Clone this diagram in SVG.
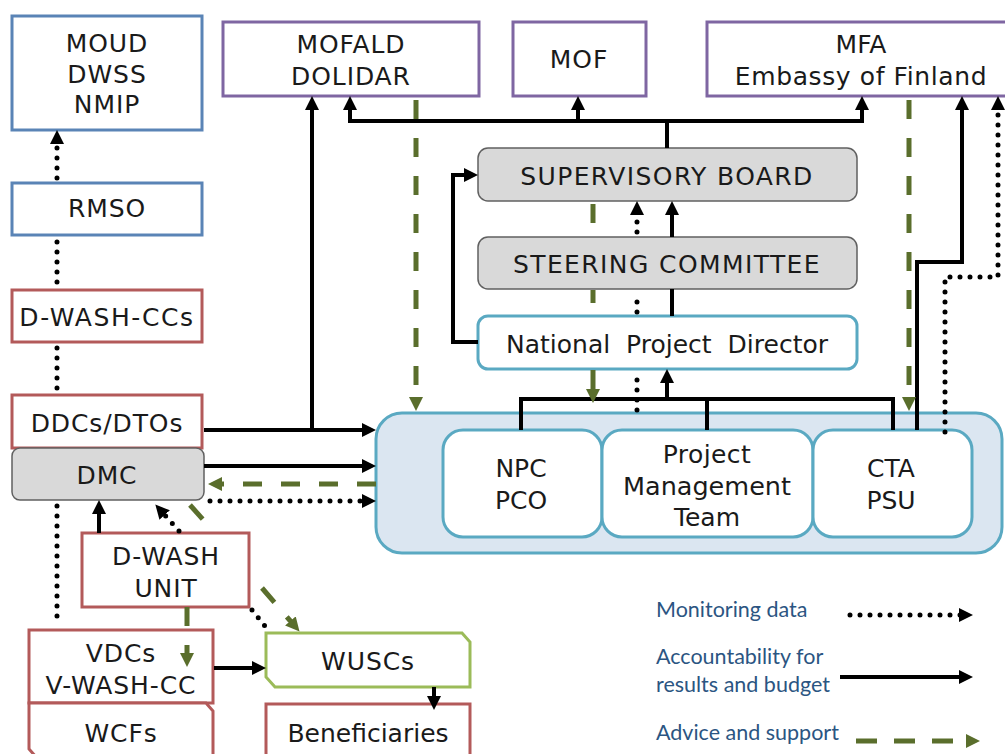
<svg xmlns="http://www.w3.org/2000/svg" width="1005" height="754" viewBox="0 0 1005 754">
<style>
.t{font-family:"DejaVu Sans",Verdana,sans-serif;font-size:25px;fill:#1a1a1a;text-anchor:middle;letter-spacing:0.9px}
.w{letter-spacing:1.4px}
.n{letter-spacing:0}
.lg{font-family:Lato,"Open Sans",sans-serif;font-size:21.5px;fill:#2b5582}
.bl{fill:#fff;stroke:#5a84b6;stroke-width:3}
.rd{fill:#fff;stroke:#b35a5a;stroke-width:3}
.pu{fill:#fff;stroke:#7f66a2;stroke-width:3}
.gn{fill:#fff;stroke:#9bbb59;stroke-width:3}
.gy{fill:#d9d9d9;stroke:#606060;stroke-width:1.5}
.tl{fill:#fff;stroke:#5aa9c2;stroke-width:3}
.ct{fill:#dbe6f1;stroke:#5aa9c2;stroke-width:3}
.s{fill:none;stroke:#000;stroke-width:4}
.d{fill:none;stroke:#000;stroke-width:5;stroke-linecap:round;stroke-dasharray:0 10}
.g{fill:none;stroke:#5a6e2c;stroke-width:5;stroke-dasharray:19 19}
</style>
<defs>
<marker id="ah" viewBox="0 0 14 14" refX="4" refY="7" markerWidth="14" markerHeight="14" markerUnits="userSpaceOnUse" orient="auto-start-reverse"><path d="M0,0 L14,7 L0,14 Z" fill="#000"/></marker>
<marker id="ag" viewBox="0 0 14 14" refX="4" refY="7" markerWidth="14" markerHeight="14" markerUnits="userSpaceOnUse" orient="auto-start-reverse"><path d="M0,0 L14,7 L0,14 Z" fill="#5a6e2c"/></marker>
</defs>
<rect width="1005" height="754" fill="#fff"/>

<g id="moud"><rect class="bl" x="12" y="16" width="190" height="114"/><text class="t" x="107" y="52">MOUD</text><text class="t" x="107" y="83">DWSS</text><text class="t" x="107" y="113">NMIP</text></g>
<g id="rmso"><rect class="bl" x="12" y="183" width="190" height="52"/><text class="t" x="107" y="217">RMSO</text></g>
<g id="dwashccs"><rect class="rd" x="12" y="290" width="190" height="52"/><text class="t" x="107" y="326" style="letter-spacing:1.6px">D-WASH-CCs</text></g>
<g id="ddcs"><rect class="rd" x="12" y="395" width="190" height="53"/><text class="t" x="107" y="432">DDCs/DTOs</text></g>
<g id="dmc"><rect class="gy" x="12" y="448" width="192" height="52" rx="8"/><text class="t" x="107" y="484">DMC</text></g>
<g id="dwashunit"><rect class="rd" x="82" y="533" width="167" height="74"/><text class="t" x="166" y="565">D-WASH</text><text class="t" x="166" y="597">UNIT</text></g>
<g id="vdcs"><rect class="rd" x="29" y="630" width="184" height="73"/><text class="t" x="121" y="662">VDCs</text><text class="t" x="121" y="694">V-WASH-CC</text></g>
<g id="wcfs"><path class="rd" d="M29,703 H206 L213,711 V758 H37 L29,749 Z"/><text class="t" x="121" y="742">WCFs</text></g>
<g id="wuscs"><path class="gn" d="M266,633 H462 L470,642 V687 H275 L266,677 Z"/><text class="t" x="368" y="670">WUSCs</text></g>
<g id="beneficiaries"><rect class="rd" x="266" y="704" width="204" height="60"/><text class="t n" x="368" y="742">Beneficiaries</text></g>

<g id="mofald"><rect class="pu" x="223" y="22" width="256" height="74"/><text class="t" x="351" y="53">MOFALD</text><text class="t" x="351" y="85">DOLIDAR</text></g>
<g id="mof"><rect class="pu" x="513" y="22" width="133" height="74"/><text class="t" x="579" y="68">MOF</text></g>
<g id="mfa"><rect class="pu" x="707" y="22" width="310" height="74"/><text class="t n" x="861" y="53">MFA</text><text class="t" x="861" y="85" style="letter-spacing:0.6px">Embassy of Finland</text></g>

<g id="supervisory"><rect class="gy" x="478" y="148" width="379" height="53" rx="10"/><text class="t w" x="667" y="185">SUPERVISORY BOARD</text></g>
<g id="steering"><rect class="gy" x="478" y="237" width="379" height="52" rx="10"/><text class="t w" x="667" y="273">STEERING COMMITTEE</text></g>
<g id="npd"><rect class="tl" x="478" y="316" width="379" height="53" rx="10"/><text class="t n" x="667" y="353" word-spacing="8">National Project Director</text></g>

<g id="pmu"><rect class="ct" x="376" y="413" width="626" height="140" rx="26"/>
<g id="npc"><rect class="tl" x="443" y="430" width="159" height="107" rx="20"/><text class="t n" x="521" y="477">NPC</text><text class="t n" x="521" y="509">PCO</text></g>
<g id="pmt"><rect class="tl" x="602" y="430" width="211" height="107" rx="20"/><text class="t" x="707" y="463" style="letter-spacing:0.4px">Project</text><text class="t n" x="707" y="495" textLength="168" lengthAdjust="spacingAndGlyphs">Management</text><text class="t n" x="707" y="526">Team</text></g>
<g id="cta"><rect class="tl" x="813" y="430" width="159" height="107" rx="20"/><text class="t n" x="891" y="477">CTA</text><text class="t n" x="891" y="509">PSU</text></g>
</g>

<g id="connectors">
<path class="s" d="M204,430 H366" marker-end="url(#ah)"/>
<path class="s" d="M312,430 V106" marker-end="url(#ah)"/>
<path class="s" d="M204,466 H366" marker-end="url(#ah)"/>
<path class="s" d="M99,533 V510" marker-end="url(#ah)"/>
<path class="s" d="M214,668 H256" marker-end="url(#ah)"/>
<path class="s" d="M434,687 V700" marker-end="url(#ah)"/>
<path class="s" d="M350,106 V121 H862 V106" marker-start="url(#ah)" marker-end="url(#ah)"/>
<path class="s" d="M578,121 V106" marker-end="url(#ah)"/>
<path class="s" d="M667,121 V148"/>
<path class="s" d="M478,342 H453 V175 H468" marker-end="url(#ah)"/>
<path class="s" d="M672,316 V289"/>
<path class="s" d="M672,237 V211" marker-end="url(#ah)"/>
<path class="s" d="M521,430 V399 H893 V430"/>
<path class="s" d="M707,430 V399"/>
<path class="s" d="M667,399 V379" marker-end="url(#ah)"/>
<path class="s" d="M917,430 V262 H962 V106" marker-end="url(#ah)"/>

<path class="d" d="M57,178 V140" marker-end="url(#ah)"/>
<path class="d" d="M57,242 V285"/>
<path class="d" d="M57,348 V390"/>
<path class="d" d="M57,506 V626"/>
<path class="d" d="M210,501 H366" marker-end="url(#ah)"/>
<path class="d" d="M637,410 V372"/>
<path class="d" d="M637,312 V292"/>
<path class="d" d="M637,232 V211" marker-end="url(#ah)"/>
<path class="d" d="M945,432 V277 H998 V106" marker-end="url(#ah)"/>
<path class="d" d="M179,531 L162,512" marker-end="url(#ah)"/>
<path class="d" d="M252,610 L268,630"/>

<path class="g" d="M416,100 V401" marker-end="url(#ag)"/>
<path class="g" d="M909,100 V401" marker-end="url(#ag)"/>
<path class="g" d="M593,204 V237"/>
<path class="g" d="M593,290 V303"/>
<path class="g" d="M593,370 V393" marker-end="url(#ag)"/>
<path class="g" d="M376,484 H218" marker-end="url(#ag)"/>
<path class="g" d="M190,505 L215,533"/>
<path class="g" d="M262,588 L293,624" marker-end="url(#ag)"/>
<path class="g" d="M187,607 V657" marker-end="url(#ag)"/>
</g>

<g id="legend">
<text class="lg" x="656" y="617">Monitoring data</text>
<text class="lg" x="656" y="664">Accountability for</text>
<text class="lg" x="656" y="692">results and budget</text>
<text class="lg" x="656" y="740">Advice and support</text>
<path class="d" d="M850,615 H963" marker-end="url(#ah)"/>
<path class="s" d="M840,677 H963" marker-end="url(#ah)"/>
<path class="g" d="M856,741 H970" style="stroke-dasharray:21 17" marker-end="url(#ag)"/>
</g>
</svg>
